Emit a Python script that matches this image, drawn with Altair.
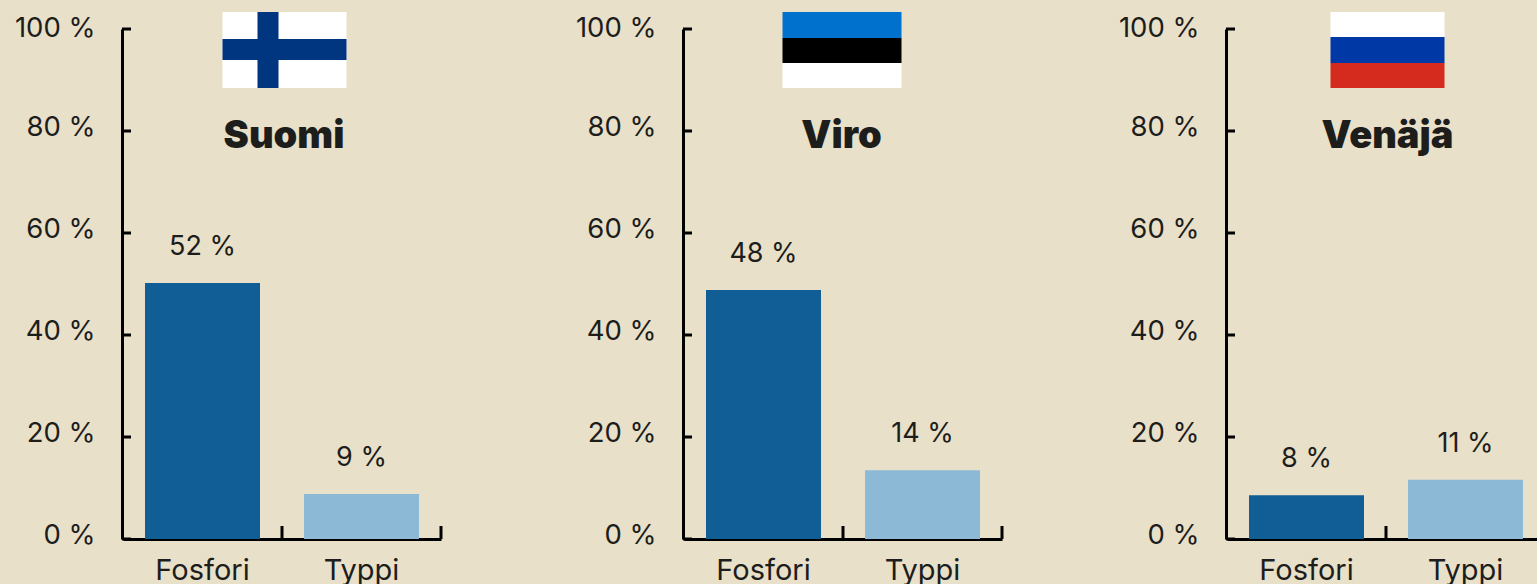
import altair as alt
import pandas as pd

CATEGORIES = ["Fosfori", "Typpi"]
COUNTRIES = ["Suomi", "Viro", "Venäjä"]
BAR_VALUES = {"Suomi": [50.2, 8.8], "Viro": [48.8, 13.5], "Venäjä": [8.6, 11.6]}
BAR_LABELS = {"Suomi": ["52 %", "9 %"], "Viro": ["48 %", "14 %"], "Venäjä": ["8 %", "11 %"]}
Y_TICKS = [0, 20, 40, 60, 80, 100]

BG = "#e8e0c9"
INK = "#1d1d1b"
FONT = "Inter"
BAR_COLORS = ["#115d96", "#8cb9d6"]

W, H = 318, 510

# flag rectangles: x0, x1, y0, y1, colour, in panel pixels
FLAGS = {
    "Suomi": [(99.5, 223.5, -17, 59, "#ffffff"), (134.5, 155.5, -17, 59, "#003580"), (99.5, 223.5, 10, 31, "#003580")],
    "Viro": [(98.5, 217.5, -17, 9, "#0072ce"), (98.5, 217.5, 9, 34, "#000000"), (98.5, 217.5, 34, 59, "#ffffff")],
    "Venäjä": [(103.5, 217.5, -17, 8, "#ffffff"), (103.5, 217.5, 8, 34, "#0039a6"), (103.5, 217.5, 34, 59, "#d52b1e")],
}
TITLE_X = {"Suomi": 161, "Viro": 157.5, "Venäjä": 160.5}


def panel(country):
    df = pd.DataFrame({"cat": CATEGORIES, "v": BAR_VALUES[country], "lab": BAR_LABELS[country]})
    x = alt.X("cat:N", sort=CATEGORIES, scale=alt.Scale(paddingInner=0, paddingOuter=0, domain=CATEGORIES),
              axis=alt.Axis(title=None, labelAngle=0, ticks=False, labelPadding=17, domainColor="#000", domainWidth=3,
                            labelFont=FONT, labelFontSize=29, labelColor=INK, grid=False, labelBaseline="top"))
    y = alt.Y("v:Q", scale=alt.Scale(domain=[0, 100], nice=False),
              axis=alt.Axis(title=None, values=Y_TICKS, ticks=False, offset=1, labelPadding=27, domainColor="#000",
                            domainWidth=3, labelFont=FONT, labelFontSize=27.5, labelColor=INK, grid=False,
                            labelOffset={"condition": {"test": "datum.value == 100", "value": -1}, "value": -4},
                            labelExpr="datum.value + ' %'"))
    bars = alt.Chart(df).mark_bar(size=115, clip=False).encode(
        x=x, y=y,
        color=alt.Color("cat:N", scale=alt.Scale(domain=CATEGORIES, range=BAR_COLORS), legend=None),
    )
    labels = alt.Chart(df).mark_text(dy=-36, font=FONT, fontSize=27, color=INK, baseline="middle").encode(
        x=alt.X("cat:N", sort=CATEGORIES), y=alt.Y("v:Q"), text="lab:N")
    xticks = alt.Chart(df).mark_rule(color="#000", strokeWidth=3).encode(
        x=alt.X("cat:N", sort=CATEGORIES, bandPosition=1), y=alt.value(H - 13), y2=alt.value(H))
    yticks = alt.Chart(pd.DataFrame({"t": Y_TICKS})).mark_rule(color="#000", strokeWidth=3).encode(
        y=alt.Y("t:Q"), x=alt.value(-1), x2=alt.value(8))
    title = alt.Chart(pd.DataFrame({"t": [country]})).mark_text(
        font=FONT, fontSize=38, fontWeight=900, color=INK, baseline="alphabetic", align="center"
    ).encode(x=alt.value(TITLE_X[country]), y=alt.value(119), text="t:N")
    flag = [
        alt.Chart(pd.DataFrame({"a": [1]})).mark_rect(color=c).encode(
            x=alt.value(x0), x2=alt.value(x1), y=alt.value(y0), y2=alt.value(y1))
        for x0, x1, y0, y1, c in FLAGS[country]
    ]
    return alt.layer(bars, labels, xticks, yticks, title, *flag).properties(width=W, height=H)


a, b, c = [panel(n) for n in COUNTRIES]
chart = alt.hconcat(alt.hconcat(a, b, spacing=132), c, spacing=114).properties(
    background=BG, padding={"left": 6, "top": 4, "right": 0, "bottom": 0}
).configure_view(stroke=None).resolve_scale(color="independent")

CSS = (
    "html{background:#e8e0c9;width:1537px;height:584px;overflow:hidden}"
    "body{background:#e8e0c9;margin:0;width:1537px;height:584px;overflow:hidden;position:relative}"
    "#vis{position:absolute!important;left:8px;top:8px;width:1529px!important;height:576px!important;overflow:hidden;display:block!important}"
)
chart.save("out.html", embed_options={
    "renderer": "svg", "actions": False,
    "defaultStyle": CSS,
})
